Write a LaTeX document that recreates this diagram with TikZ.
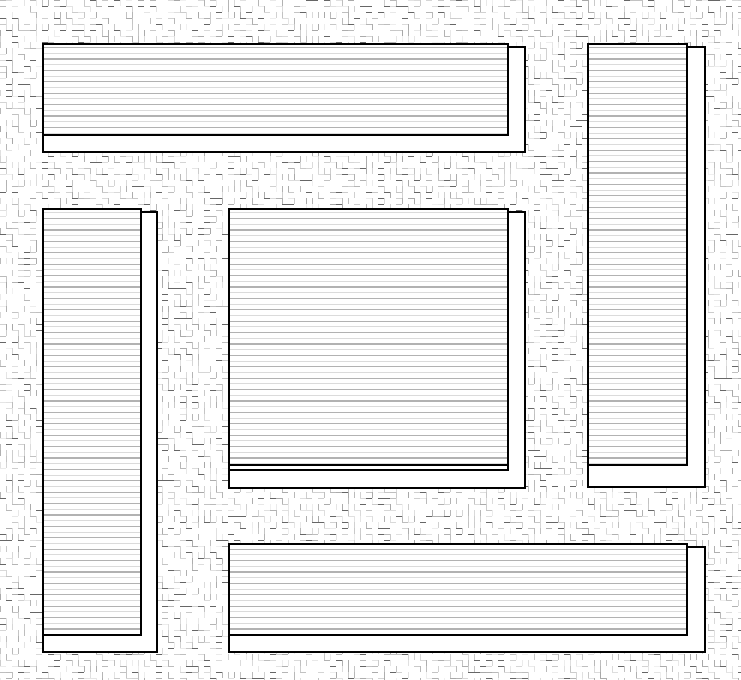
\documentclass[tikz,border=0pt]{standalone}
\usepackage{tikz}
\begin{document}
\begin{tikzpicture}[x=0.75pt,y=-0.75pt,
  rim/.style={draw=black, line width=1.6pt},
  shade/.style={draw=black, line width=1pt, fill=white},
  hatch/.style={draw=black!30, line width=0.85pt},
  hatchlight/.style={draw=black!14, line width=0.85pt},
  grain/.style={line width=0.75pt}]
\useasboundingbox (0,0) rectangle (741,679);
\fill[white] (0,0) rectangle (741,679);
% background grain
\pgfmathsetseed{4242}
\foreach \i in {0,...,123}{
  \foreach \j in {0,...,113}{
    \pgfmathrandominteger{\r}{0}{19}
    \pgfmathrandominteger{\g}{6}{34}
    \ifnum\r<2 \def\g{60}\fi
    \ifnum\r<7 \draw[grain, black!\g] (6*\i,6*\j) -- ++(6,0);\fi
    \ifnum\r>12 \draw[grain, black!\g] (6*\i,6*\j) -- ++(0,6);\fi
  }
}
% panels: main box and its offset shadow
\foreach \xa/\ya/\xb/\yb/\xs/\ys in {43/44/508/135/525/152,
    43/209/141/635/157/652, 229/209/508/470/525/488,
    588/44/687/465/705/487, 229/544/687/635/705/652}{
  \draw[shade] (\xa,\ya+3) rectangle (\xs,\ys);
  \fill[white] (\xa,\ya) rectangle (\xb,\yb);
  \begin{scope}
    \clip (\xa,\ya) rectangle (\xb,\yb);
    \foreach \yy in {2,13.4,...,679} \draw[hatch] (\xa,\yy) -- (\xb,\yy);
    \foreach \yy in {7.7,19.1,...,679} \draw[hatchlight] (\xa,\yy) -- (\xb,\yy);
  \end{scope}
  \draw[rim] (\xa,\ya) rectangle (\xb,\yb);
}
\draw[rim] (229,465) -- (508,465);
\end{tikzpicture}
\end{document}
